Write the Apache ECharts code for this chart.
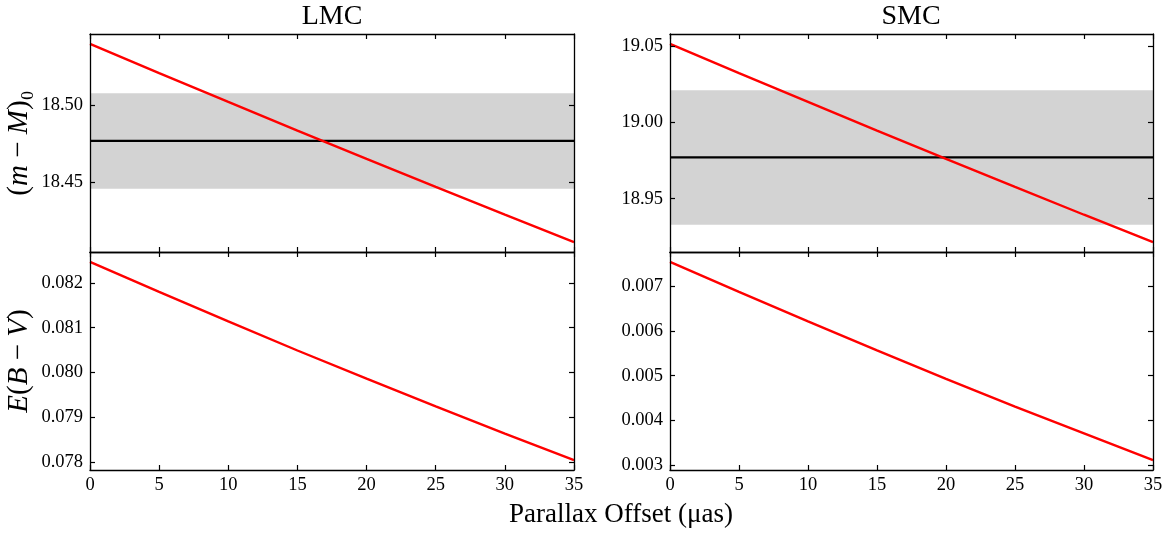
<!DOCTYPE html>
<html><head><meta charset="utf-8">
<script src="https://cdn.jsdelivr.net/npm/echarts@6/dist/echarts.min.js"></script>
<style>html,body{margin:0;padding:0;background:#fff}#c{width:1167px;height:534px}</style>
</head><body><div id="c"></div>
<script>
// ---- data ----
const offsets = [0, 5, 10, 15, 20, 25, 30, 35];
const lmcDist = [18.5400, 18.5210, 18.5023, 18.4837, 18.4653, 18.4471, 18.4291, 18.4113];
const smcDist = [19.0513, 19.0322, 19.0133, 18.9945, 18.9760, 18.9577, 18.9395, 18.9216];
const lmcEbv = [0.08247, 0.08180, 0.08114, 0.08049, 0.07986, 0.07924, 0.07863, 0.07804];
const smcEbv = [0.00755, 0.00688, 0.00622, 0.00557, 0.00493, 0.00431, 0.00371, 0.00311];
const lmcRef = 18.477, lmcRefErr = 0.031;
const smcRef = 18.977, smcRefErr = 0.044;
const xTickStep = 5;
const lmcDistTicks = [18.45, 18.50];
const smcDistTicks = [18.95, 19.00, 19.05];
const lmcEbvTicks = [0.078, 0.079, 0.080, 0.081, 0.082];
const smcEbvTicks = [0.003, 0.004, 0.005, 0.006, 0.007];
const panelTitles = ['LMC', 'SMC'];
const xTitle = 'Parallax Offset (\u03bcas)';

// ---- layout / style ----
const FONT = '"Liberation Serif", "DejaVu Serif", serif';
const grids = [
  {left: 90, top: 34, width: 484, height: 218},
  {left: 90, top: 252, width: 484, height: 218},
  {left: 670, top: 34, width: 483, height: 218},
  {left: 670, top: 252, width: 483, height: 218}
];
function pad(arr){ const mn = Math.min(...arr), mx = Math.max(...arr), r = mx - mn; return [mn - 0.05*r, mx + 0.05*r]; }
const axLine = {show: true, onZero: false, lineStyle: {color: '#000', width: 1.3}};
const axTick = {show: true, inside: true, length: 5, lineStyle: {color: '#000', width: 1.2}};
function xAx(g, pos, labels){
  return {type: 'value', gridIndex: g, position: pos, z: 10, min: offsets[0], max: offsets[offsets.length-1], interval: xTickStep,
    axisLine: axLine, axisTick: axTick, splitLine: {show: false},
    axisLabel: {show: labels, margin: 6, color: '#000', fontFamily: FONT, fontSize: 18.5, showMinLabel: true, showMaxLabel: true}};
}
function yAx(g, pos, arr, ticks, dec, labels, name){
  const [mn, mx] = pad(arr);
  const a = {type: 'value', gridIndex: g, position: pos, z: 10, min: mn, max: mx,
    axisLine: axLine, axisTick: Object.assign({customValues: ticks}, axTick), splitLine: {show: false},
    axisLabel: {show: labels, customValues: ticks, margin: 7, color: '#000', fontFamily: FONT, fontSize: 18.5, formatter: v => v.toFixed(dec)}};
  if (name) {
    Object.assign(a, {name: name, nameLocation: 'middle', nameGap: 56, nameRotate: 90,
      nameTextStyle: {color: '#000', fontFamily: FONT, fontSize: 29,
        rich: {i: {fontStyle: 'italic', fontFamily: FONT, fontSize: 29, color: '#000'}}}});
  }
  return a;
}
const xAxes = [], yAxes = [];
const panelData = [lmcDist, lmcEbv, smcDist, smcEbv];
const panelTicks = [lmcDistTicks, lmcEbvTicks, smcDistTicks, smcEbvTicks];
const panelDec = [2, 3, 2, 3];
const names = ['({i|m} \u2212 {i|M})\u2080', '{i|E}({i|B} \u2212 {i|V})', null, null];
for (let g = 0; g < 4; g++) {
  const lower = g % 2 === 1;
  xAxes.push(xAx(g, 'bottom', lower));
  xAxes.push(xAx(g, 'top', false));
  yAxes.push(yAx(g, 'left', panelData[g], panelTicks[g], panelDec[g], true, names[g]));
  yAxes.push(yAx(g, 'right', panelData[g], panelTicks[g], panelDec[g], false, null));
}
const series = [];
const refs = [[lmcRef, lmcRefErr, 0], [smcRef, smcRefErr, 2]];
refs.forEach(([ref, err, g]) => {
  series.push({type: 'line', xAxisIndex: 2*g, yAxisIndex: 2*g, z: 2,
    data: [[offsets[0], ref], [offsets[offsets.length-1], ref]], showSymbol: false, silent: true,
    lineStyle: {color: '#000', width: 2.2},
    markArea: {silent: true, itemStyle: {color: '#d3d3d3'},
      data: [[{xAxis: offsets[0], yAxis: ref - err}, {xAxis: offsets[offsets.length-1], yAxis: ref + err}]]}});
});
panelData.forEach((arr, g) => {
  series.push({type: 'line', xAxisIndex: 2*g, yAxisIndex: 2*g, z: 5, showSymbol: false, silent: true,
    data: offsets.map((x, i) => [x, arr[i]]), lineStyle: {color: '#ff0000', width: 2.4}});
});
const chart = echarts.init(document.getElementById('c'), null, {renderer: 'canvas'});
chart.setOption({
  animation: false, backgroundColor: '#fff',
  grid: grids, xAxis: xAxes, yAxis: yAxes, series: series,
  graphic: [
    {type: 'text', x: 332, y: 17, style: {text: panelTitles[0], align: 'center', verticalAlign: 'middle', fontFamily: FONT, fontSize: 28, fill: '#000'}},
    {type: 'text', x: 911, y: 17, style: {text: panelTitles[1], align: 'center', verticalAlign: 'middle', fontFamily: FONT, fontSize: 28, fill: '#000'}},
    {type: 'text', x: 621, y: 515, style: {text: xTitle, align: 'center', verticalAlign: 'middle', fontFamily: FONT, fontSize: 27, fill: '#000'}}
  ]
});
</script></body></html>
